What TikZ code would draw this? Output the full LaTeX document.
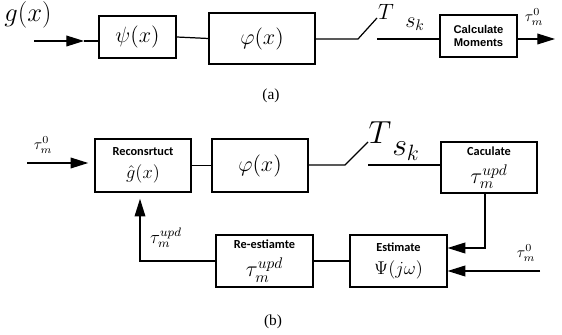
\documentclass[tikz,border=0pt]{standalone}
\usepackage{amsmath,amssymb}
\usepackage{fontspec}
\setmainfont{Liberation Serif}
\newfontfamily\boxfont{Carlito}
\newfontfamily\arialfont{Liberation Sans}
\usepackage{tikz}
\usetikzlibrary{arrows.meta,calc}

\tikzset{
  blk/.style={draw,line width=0.8pt,inner sep=1pt,align=center,
    font=\fontsize{8}{9}\selectfont\boxfont\bfseries},
  arr/.style={-{Triangle[length=11.5pt,width=7pt]}},
}

\begin{document}
\begin{tikzpicture}[x=0.65pt,y=-0.65pt,line width=0.8pt]
\useasboundingbox (0,0) rectangle (562,335);

% (a)
\node[blk,minimum width=50pt,minimum height=27.3pt] (psi) at (137.5,37) {\Large$\psi(x)$};
\node[blk,minimum width=68.9pt,minimum height=33.2pt] (phi) at (262,38.5) {\Large$\varphi(x)$};
\node[blk,minimum width=50pt,minimum height=27.3pt,
  font=\fontsize{7.3}{8.5}\selectfont\arialfont\bfseries] (calc) at (478.5,36) {Calculate\\[0.5pt]Moments};

\coordinate (ain) at (34,41);
\coordinate (aint) at (84,41);
\coordinate (sa1) at (358,39);
\coordinate (sa2) at (377,18);
\coordinate (sa3) at (377,39);
\coordinate (aout) at (555,39);

\draw[arr] (ain) -- (aint);
\draw (aint) -- (aint -| psi.west);
\draw (psi.east) -- (phi.west);
\draw (phi.east |- sa1) -- (sa1) -- (sa2);
\draw (sa3) -- (sa3 -| calc.west);
\draw[arr] (calc.east |- sa3) -- (aout);

\node (glab) at (28,15) {\fontsize{16.5}{18}\selectfont$g(x)$};
\node (tlaba) at (386,12) {\fontsize{15}{17}\selectfont$T$};
\node (sklaba) at (415,24) {\Large$s_k$};
\node (tauouta) at (534,17) {$\tau_m^0$};
\node (capa) at (271,96) {(a)};

% (b)
\node[blk,minimum width=62.4pt,minimum height=34.5pt] (recon) at (143,165.5)
  {Reconsrtuct\\[5pt] {\large$\hat{g}(x)$}};
\node[blk,minimum width=62.4pt,minimum height=34.5pt] (phib) at (260,165.5)
  {\fontsize{15.5}{17}\selectfont$\varphi(x)$};
\node[blk,minimum width=62.4pt,minimum height=33.2pt] (cacl) at (489,167.5)
  {Caculate\\[5pt] {\Large$\tau_m^{upd}$}};
\node[blk,minimum width=63pt,minimum height=33.8pt] (est) at (398.5,261)
  {Estimate\\[5pt] {\large$\Psi(j\omega)$}};
\node[blk,minimum width=63pt,minimum height=33.8pt] (reest) at (264.5,261)
  {Re-estiamte\\[5pt] {\Large$\tau_m^{upd}$}};

\coordinate (bin) at (27,163);
\coordinate (sb1) at (345,165);
\coordinate (sb2) at (368,142);
\coordinate (sb3) at (368,165);
\coordinate (fbc) at (485,248);
\coordinate (bin2) at (540,271);
\coordinate (fbr) at (140,260);

\draw[arr,shorten >=4pt] (bin) -- (bin -| recon.west);
\draw (recon.east) -- (phib.west);
\draw (phib.east |- sb1) -- (sb1) -- (sb2);
\draw (sb3) -- (sb3 -| cacl.west);
\draw[arr] (cacl.south -| fbc) -- (fbc) -- (fbc -| est.east);
\draw[arr] (bin2) -- (bin2 -| est.east);
\draw (est.west) -- (reest.east);
\draw[arr,shorten >=4pt] (reest.west) -- (reest.west -| fbr) -- (fbr |- recon.south);

\node (tauinb) at (43,145) {$\tau_m^0$};
\node (tlabb) at (380,133) {\fontsize{21}{24}\selectfont$T$};
\node (sklabb) at (406,151) {\fontsize{21}{24}\selectfont$s_k$};
\node (tauupd) at (166,238) {\large$\tau_m^{upd}$};
\node (tauinb2) at (526,253) {$\tau_m^0$};
\node (capb) at (273,322) {(b)};
\end{tikzpicture}
\end{document}
